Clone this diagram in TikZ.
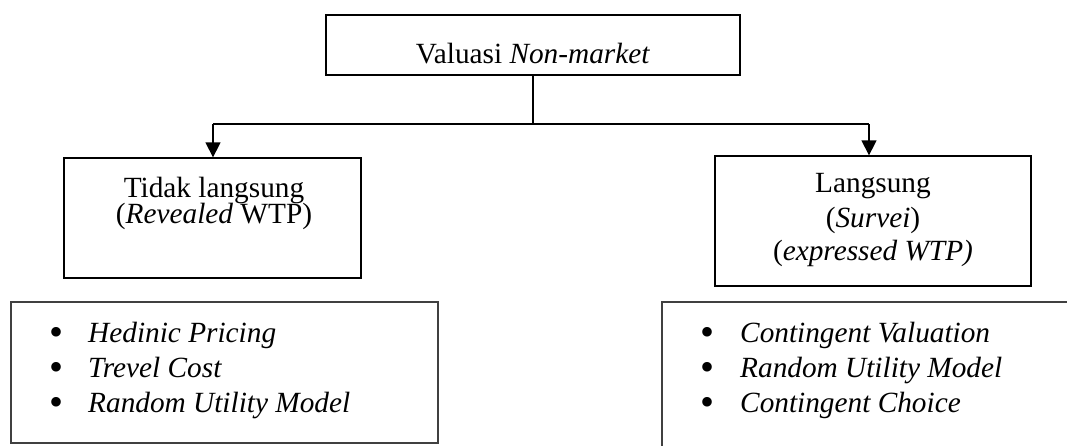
\documentclass[tikz,border=0pt]{standalone}
\usepackage{fontspec}
\setmainfont{Liberation Serif}
\usetikzlibrary{arrows.meta,calc}
\begin{document}
\begin{tikzpicture}[x=1pt,y=-1pt,
  box/.style={draw=black,line width=1.3pt,inner sep=0pt},
  listbox/.style={draw=black!75,line width=1.6pt},
  txt/.style={anchor=base,inner sep=0pt,font=\fontsize{29.3}{30}\selectfont},
  itm/.style={anchor=base west,inner sep=0pt,font=\fontsize{29.3}{30}\selectfont\itshape},
  bul/.style={anchor=base,inner sep=0pt,font=\fontsize{40}{40}\selectfont},
  conn/.style={line width=1.3pt},
  arr/.style={line width=1.3pt,-{Triangle[width=15pt,length=15pt]}}]
\useasboundingbox (0,0) rectangle (1067,445);
\clip (0,0) rectangle (1067,445);
% boxes
\node[box,minimum width=414pt,minimum height=60pt] (top) at (533,45) {};
\node[box,minimum width=297pt,minimum height=120pt] (left) at (212.5,218) {};
\node[box,minimum width=316pt,minimum height=130pt] (right) at (873,221) {};
\draw[listbox] (11,302) rectangle (438,443);
\draw[listbox] (662,302) rectangle (1090,470);
% texts
\node[txt] (t0) at (533,63) {Valuasi \textit{Non-market}};
\node[txt] (l1) at (214,197) {Tidak langsung};
\node[txt] (l2) at (214,223) {(\textit{Revealed} WTP)};
\node[txt] (r1) at (873,192) {Langsung};
\node[txt] (r2) at (873,227) {(\textit{Survei})};
\node[txt] (r3) at (873,260) {(\textit{expressed WTP)}};
% left list
\node[bul] (lb1) at (57,345) {\textbullet};
\node[bul] (lb2) at (57,380) {\textbullet};
\node[bul] (lb3) at (57,415) {\textbullet};
\node[itm] (li1) at (88,342) {Hedinic Pricing};
\node[itm] (li2) at (88,377) {Trevel Cost};
\node[itm] (li3) at (88,412) {Random Utility Model};
% right list
\node[bul] (rb1) at (707,345) {\textbullet};
\node[bul] (rb2) at (707,380) {\textbullet};
\node[bul] (rb3) at (707,415) {\textbullet};
\node[itm] (ri1) at (740,342) {Contingent Valuation};
\node[itm] (ri2) at (740,377) {Random Utility Model};
\node[itm] (ri3) at (740,412) {Contingent Choice};
% connectors
\coordinate (j) at (533,124);
\coordinate (la) at (213,124);
\coordinate (ra) at (869,124);
\draw[conn] (top.south) -- (j);
\draw[conn] (la) -- (ra);
\draw[arr] (la) -- (la |- left.north);
\draw[arr] (ra) -- (ra |- right.north);
\end{tikzpicture}
\end{document}
